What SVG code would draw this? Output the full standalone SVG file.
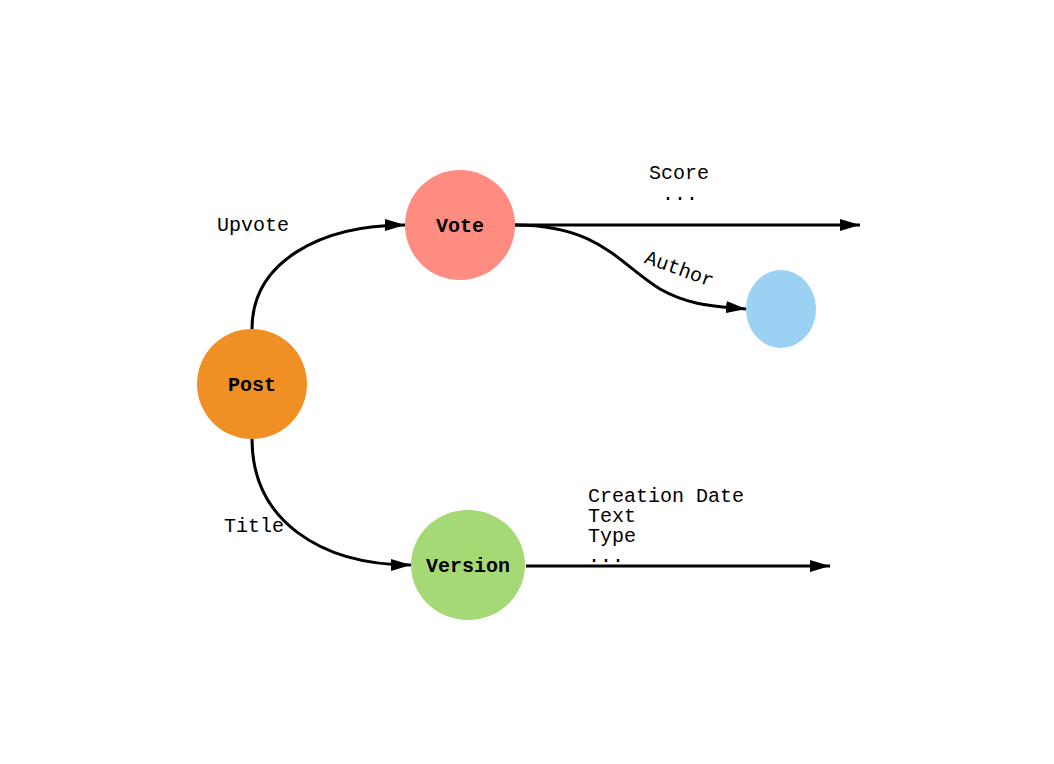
<svg xmlns="http://www.w3.org/2000/svg" width="1054" height="764" viewBox="0 0 1054 764">
<defs>
<style>
.lbl{font-family:"Liberation Mono","DejaVu Sans Mono",monospace;font-size:20px;fill:#000}
.nl{font-family:"Liberation Mono","DejaVu Sans Mono",monospace;font-size:20px;font-weight:bold;fill:#000;text-anchor:middle}
.edge{fill:none;stroke:#000;stroke-width:3}
</style>
<marker id="arr" viewBox="0 0 20 12" refX="20" refY="6" markerWidth="20" markerHeight="12" markerUnits="userSpaceOnUse" orient="auto">
<path d="M0,0 L20,6 L0,12 Z" fill="#000"/>
</marker>
</defs>
<rect width="1054" height="764" fill="#fff"/>
<g id="connectors">
<path class="edge" d="M252,329 C252,262 320,225 405,225" marker-end="url(#arr)"/>
<path class="edge" d="M515,225 L860,225" marker-end="url(#arr)"/>
<path class="edge" d="M515,225 C600,225 620,265 660,289 C690,306 715,306 746,309" marker-end="url(#arr)"/>
<path class="edge" d="M252,439 C252,520 320,565 411,565" marker-end="url(#arr)"/>
<path class="edge" d="M526,566 L830,566" marker-end="url(#arr)"/>
<text class="lbl" x="217" y="231">Upvote</text>
<text class="lbl" x="649" y="179">Score</text>
<text class="lbl" x="662" y="200">...</text>
<text class="lbl" x="679" y="275" text-anchor="middle" transform="rotate(20 679 270)">Author</text>
<text class="lbl" x="224" y="532">Title</text>
<text class="lbl" x="588" y="502">Creation Date</text>
<text class="lbl" x="588" y="522">Text</text>
<text class="lbl" x="588" y="542">Type</text>
<text class="lbl" x="588" y="562">...</text>
</g>
<g id="post">
<circle cx="252" cy="384" r="55" fill="#F08F24"/>
<text class="nl" x="252" y="391">Post</text>
</g>
<g id="vote">
<circle cx="460" cy="225" r="55" fill="#FF8C80"/>
<text class="nl" x="460" y="232">Vote</text>
</g>
<g id="author">
<ellipse cx="781" cy="309" rx="35" ry="39" fill="#9BD1F2"/>
</g>
<g id="version">
<ellipse cx="468" cy="565" rx="57" ry="55" fill="#A5D975"/>
<text class="nl" x="468" y="572">Version</text>
</g>
</svg>
